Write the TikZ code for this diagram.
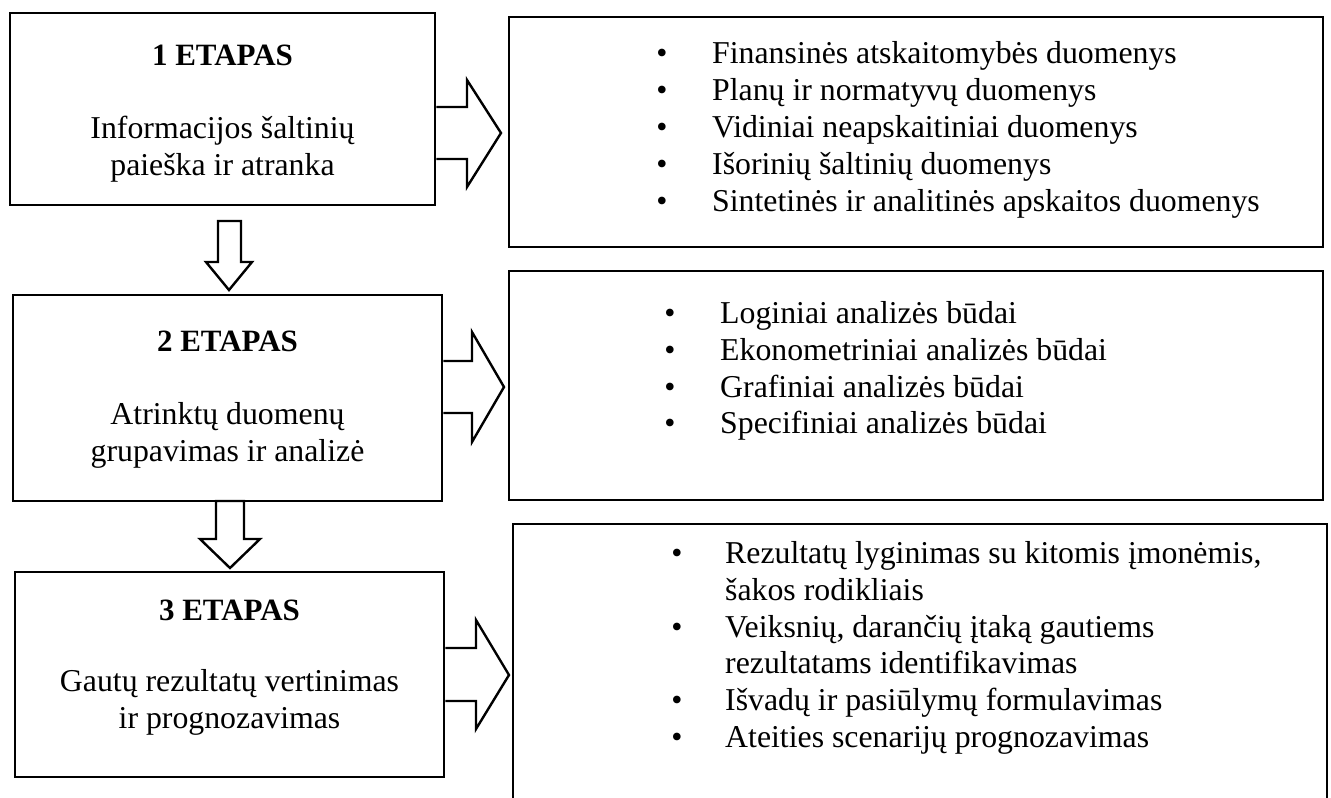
\documentclass[tikz,border=0pt]{standalone}
\usepackage{fontspec}
\setmainfont{Liberation Serif}
\begin{document}
\begin{tikzpicture}[x=1pt,y=-1pt,
  box/.style={draw, line width=2.6pt, rectangle, inner sep=0pt},
  blk/.style={draw, line width=2.4pt, line join=miter},
  txt/.style={anchor=base, inner sep=0pt, font=\fontsize{31.8}{38}\selectfont},
  hd/.style={anchor=base, inner sep=0pt, font=\fontsize{31}{38}\selectfont\bfseries},
  itm/.style={anchor=base west, inner sep=0pt, font=\fontsize{31.8}{38}\selectfont},
  bul/.style={anchor=base, inner sep=0pt, font=\fontsize{31.8}{38}\selectfont}
]
\useasboundingbox (0,0) rectangle (1331,798);

% stage boxes
\node[box, minimum width=425pt, minimum height=192pt] (s1) at (222.5,109) {};
\node[box, minimum width=429pt, minimum height=206pt] (s2) at (227.5,398) {};
\node[box, minimum width=429pt, minimum height=205pt] (s3) at (229.5,674.5) {};

% detail boxes
\node[box, minimum width=814pt, minimum height=230pt] (d1) at (916,132) {};
\node[box, minimum width=814pt, minimum height=229pt] (d2) at (916,385.5) {};
\node[box, minimum width=814pt, minimum height=306pt] (d3) at (920,677) {};

% stage texts
\node[hd] (h1) at (222.5,65) {1 ETAPAS};
\node[txt] (b1a) at (222.5,138) {Informacijos šaltinių};
\node[txt] (b1b) at (222.5,175) {paieška ir atranka};

\node[hd] (h2) at (227.5,351) {2 ETAPAS};
\node[txt] (b2a) at (227.5,424) {Atrinktų duomenų};
\node[txt] (b2b) at (227.5,461) {grupavimas ir analizė};

\node[hd] (h3) at (229.5,620) {3 ETAPAS};
\node[txt] (b3a) at (229.5,691) {Gautų rezultatų vertinimas};
\node[txt] (b3b) at (229.5,728) {ir prognozavimas};

% list 1
\foreach \y/\t [count=\i] in {63/Finansinės atskaitomybės duomenys,
  100/Planų ir normatyvų duomenys,
  137/Vidiniai neapskaitiniai duomenys,
  174/Išorinių šaltinių duomenys,
  211/Sintetinės ir analitinės apskaitos duomenys}{
  \node[bul] (p1b\i) at (662,\y) {•};
  \node[itm] (p1t\i) at (712,\y) {\t};
}

% list 2
\foreach \y/\t [count=\i] in {323/Loginiai analizės būdai,
  360/Ekonometriniai analizės būdai,
  397/Grafiniai analizės būdai,
  433/Specifiniai analizės būdai}{
  \node[bul] (p2b\i) at (670,\y) {•};
  \node[itm] (p2t\i) at (720,\y) {\t};
}

% list 3
\node[bul] (p3b1) at (677,563) {•};
\node[itm] (p3t1) at (725,563) {Rezultatų lyginimas su kitomis įmonėmis,};
\node[itm] (p3t1b) at (725,600) {šakos rodikliais};
\node[bul] (p3b2) at (677,637) {•};
\node[itm] (p3t2) at (725,637) {Veiksnių, darančių įtaką gautiems};
\node[itm] (p3t2b) at (725,673) {rezultatams identifikavimas};
\node[bul] (p3b3) at (677,710) {•};
\node[itm] (p3t3) at (725,710) {Išvadų ir pasiūlymų formulavimas};
\node[bul] (p3b4) at (677,747) {•};
\node[itm] (p3t4) at (725,747) {Ateities scenarijų prognozavimas};

% right block arrows
\draw[blk] (s1.east |- 0,107) -- (467,107) -- (467,80) -- (501,133) -- (467,187) -- (467,159) -- (s1.east |- 0,159);
\draw[blk] (s2.east |- 0,361) -- (472,361) -- (472,332) -- (504,387) -- (472,442) -- (472,413) -- (s2.east |- 0,413);
\draw[blk] (s3.east |- 0,648) -- (476,648) -- (476,620) -- (509,675) -- (476,729) -- (476,701) -- (s3.east |- 0,701);

% down block arrows
\draw[blk] (218,221) -- (241,221) -- (241,262) -- (252,262) -- (229,290) -- (206,262) -- (218,262) -- cycle;
\draw[blk] (216,501) -- (244,501) -- (244,539) -- (260,539) -- (230,568) -- (200,539) -- (216,539) -- cycle;
\end{tikzpicture}
\end{document}
